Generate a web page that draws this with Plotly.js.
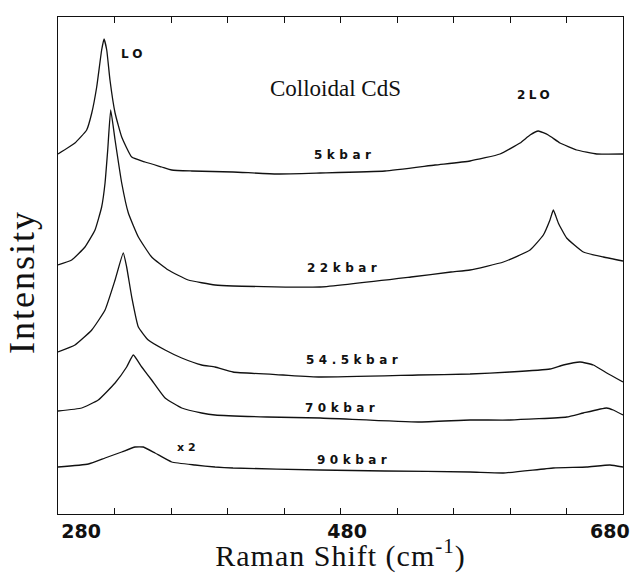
<!DOCTYPE html>
<html>
<head>
<meta charset="utf-8">
<script src="https://cdn.plot.ly/plotly-3.0.1.min.js"></script>
<style>html,body{margin:0;padding:0;background:#fff;}#chart{width:638px;height:573px;}</style>
</head>
<body>
<div id="chart"></div>
<script>
// Raman shift (cm^-1) and intensity (arbitrary units, offset stacked) per pressure
const x5 = [280, 292.0, 300.3, 303.9, 307.4, 310.9, 312.6, 314.5, 316.8, 320.4, 325.1, 332.2, 341.6, 353.4, 360.5, 374.7, 403.9, 435.0, 465.5, 511.5, 546.9, 571.7, 592.9, 607.1, 614.2, 620.0, 627.1, 635.4, 647.2, 661.4, 680];
const y5 = [360, 371, 384, 401, 427, 464, 475, 464, 434, 401, 377, 357, 352, 347, 344, 343, 342, 340, 341, 343, 349, 353, 360, 371, 379, 383, 379, 371, 364, 360, 360];

const x22 = [280, 289.7, 299.1, 306.2, 310.9, 313.3, 315.2, 317.3, 320.4, 325.1, 329.8, 336.9, 346.3, 358.1, 372.2, 391.2, 403.9, 465.5, 529.9, 558.2, 571.7, 595.3, 614.2, 623.6, 628.3, 630.7, 634.2, 640.1, 651.9, 666.1, 680];
const y22 = [249, 254, 267, 284, 307, 331, 364, 404, 374, 331, 301, 277, 257, 244, 234, 229, 228, 227, 237, 242, 244, 252, 264, 279, 294, 304, 291, 276, 262, 257, 253];

const x545 = [280, 292.0, 303.9, 313.3, 320.4, 326.2, 328.6, 332.2, 336.9, 343.9, 355.8, 367.6, 381.7, 391.2, 403.9, 439.3, 465.5, 534.9, 571.7, 600.0, 628.3, 637.7, 649.6, 659.0, 668.5, 680];
const y545 = [162, 169, 184, 204, 234, 261, 247, 217, 187, 174, 164, 156, 149, 147, 142, 139, 137, 139, 140, 142, 145, 149, 152, 149, 141, 132];

const x70 = [280, 296.8, 308.5, 320.4, 328.6, 333.3, 339.3, 346.3, 355.8, 367.6, 381.7, 391.2, 428.0, 465.5, 534.9, 571.7, 600.0, 640.1, 651.9, 668.4, 673.1, 680];
const y70 = [103, 106, 114, 131, 147, 159, 147, 134, 116, 106, 101, 99, 97, 96, 92, 94, 94, 97, 101, 106, 104, 99];

const x90 = [280, 301.5, 313.3, 325.1, 334.5, 340.4, 348.7, 360.5, 377.0, 391.2, 403.9, 465.5, 511.5, 571.7, 595.3, 630.7, 654.3, 670.8, 680];
const y90 = [47, 50, 56, 62, 67, 67, 61, 52, 49, 47, 46, 44, 43, 42, 41, 46, 47, 49, 47];

const seriesNames = ["5 kbar", "22 kbar", "54.5 kbar", "70 kbar", "90 kbar"];
const tickValues = [280, 320, 360, 400, 440, 480, 520, 560, 600, 640, 680];
const tickLabels = ["280", "", "", "", "", "480", "", "", "", "", "680"];

const NB = "\u00A0";
const tickText = tickLabels.map((t, i) => {
  if (!t) return t;
  if (i === 0) return NB.repeat(7) + t;
  if (i === tickLabels.length - 1) return t + NB.repeat(4);
  return NB.repeat(2) + t;
});

const xs = [x5, x22, x545, x70, x90];
const ys = [y5, y22, y545, y70, y90];
const traces = xs.map((xv, i) => ({
  x: xv, y: ys[i], name: seriesNames[i], type: 'scatter', mode: 'lines',
  line: {color: '#111', width: 1.3, shape: 'spline', smoothing: 0.4},
  hoverinfo: 'x+y+name'
}));

// label positions (data coords)
const labelX = [482.8, 482.5, 489.2, 481, 489.6];
const labelY = [359, 246, 154, 106, 54];

const sp = (s, ls) => '<span style="letter-spacing:' + ls + 'px">' + s + '</span>';
const annFont = {family: 'DejaVu Sans', size: 12, color: '#111', weight: 700};
const annotations = seriesNames.map((n, i) => ({
  x: labelX[i], y: labelY[i], xref: 'x', yref: 'y', text: sp(n.replace(' ', ''), 4.5),
  showarrow: false, font: annFont
}));
annotations.push({x: 333.8, y: 460, xref: 'x', yref: 'y', text: sp('LO', 4), showarrow: false, font: annFont});
annotations.push({x: 617.7, y: 419, xref: 'x', yref: 'y', text: sp('2LO', 3.5), showarrow: false, font: annFont});
annotations.push({x: 372.7, y: 67, xref: 'x', yref: 'y', text: sp('x2', 4), showarrow: false, font: {family: 'DejaVu Sans', size: 11, color: '#111', weight: 700}});
annotations.push({x: 476.5, y: 426, xref: 'x', yref: 'y', text: 'Colloidal CdS', showarrow: false,
  font: {family: 'Liberation Serif', size: 23, color: '#111'}});

const layout = {
  width: 638, height: 573,
  margin: {l: 58, r: 15, t: 17, b: 59},
  paper_bgcolor: '#fff', plot_bgcolor: '#fff',
  showlegend: false,
  xaxis: {
    range: [280, 680], tickmode: 'array',
    tickvals: tickValues, ticktext: tickText,
    ticks: 'inside', ticklen: 6, tickwidth: 1.3, tickcolor: '#111',
    showline: true, linecolor: '#111', linewidth: 1.3, mirror: 'ticks',
    showgrid: false, zeroline: false, ticklabeloverflow: 'allow',
    tickfont: {family: 'DejaVu Sans', size: 19, color: '#111', weight: 700},
    title: {text: sp('Raman Shift (cm<sup>-1</sup>)', 1), font: {family: 'Liberation Serif', size: 30, color: '#111'}, standoff: 8}
  },
  yaxis: {
    range: [0, 497], showticklabels: false, ticks: '',
    showline: true, linecolor: '#111', linewidth: 1.3, mirror: true,
    showgrid: false, zeroline: false,
    title: {text: sp('Intensity' + NB.repeat(3), 2), font: {family: 'Liberation Serif', size: 36, color: '#111'}, standoff: 11}
  },
  annotations: annotations
};

Plotly.newPlot('chart', traces, layout, {displayModeBar: false});
</script>
</body>
</html>
